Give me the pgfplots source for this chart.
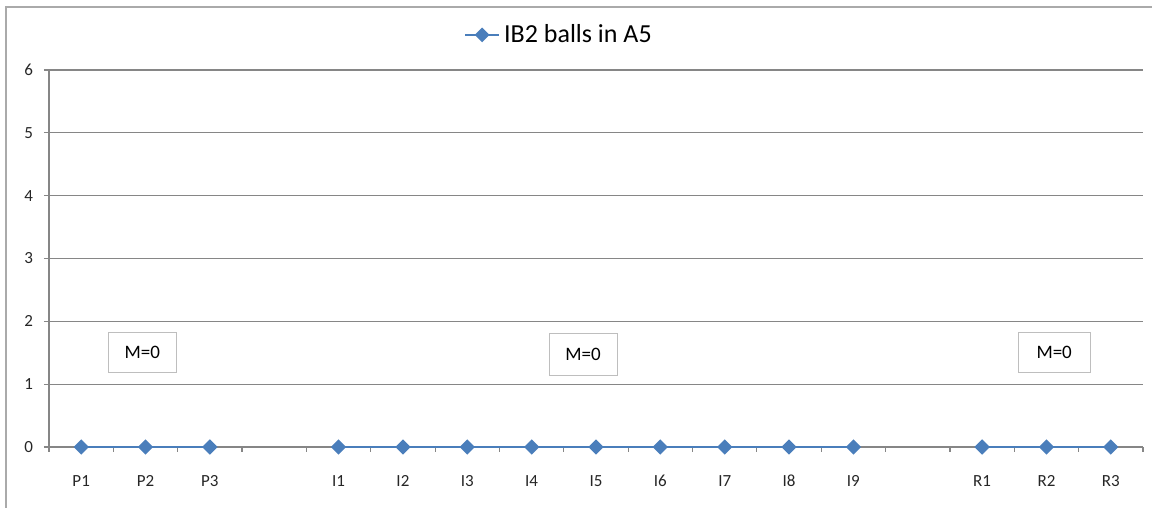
\documentclass[border=0pt]{standalone}
\usepackage{pgfplots}
\pgfplotsset{compat=1.18}
\usepackage{fontspec}
\setmainfont{Carlito}

\definecolor{xlblue}{RGB}{74,126,187}
\definecolor{gridgray}{RGB}{134,134,134}
\definecolor{framegray}{RGB}{170,170,170}
\definecolor{boxgray}{RGB}{190,190,190}

% 1 px of the reference = 0.5pt
\begin{document}
\begin{tikzpicture}
    \useasboundingbox (0pt,0pt) rectangle (576pt,254pt);
    \draw[framegray, line width=0.8pt] (3pt,0pt) -- (3pt,250.5pt) -- (576pt,250.5pt);
    \begin{axis}[
        at={(24.5pt,30.5pt)}, anchor=south west,
        scale only axis,
        width=547pt, height=188.5pt,
        xmin=-0.5, xmax=16.5,
        ymin=0, ymax=6,
        axis x line=bottom, axis y line=left,
        axis line style={gridgray, line width=0.6pt, -},
        xtick={0,1,2,4,5,6,7,8,9,10,11,12,14,15,16},
        xticklabels={P1,P2,P3,I1,I2,I3,I4,I5,I6,I7,I8,I9,R1,R2,R3},
        minor xtick={-0.5,0.5,...,16.5},
        ytick={0,1,...,6},
        tick align=outside,
        major x tick style={draw=none},
        minor tick length=2.5pt,
        major tick length=2.5pt,
        tick style={gridgray, line width=0.6pt},
        ymajorgrids=true,
        grid style={gridgray, line width=0.6pt},
        ticklabel style={font=\fontsize{8.5}{10}\selectfont, text=black!85},
        xticklabel style={anchor=base, yshift=-17.5pt},
        yticklabel style={xshift=-2pt},
        /pgf/number format/assume math mode=true,
        unbounded coords=jump,
        clip=false,
        legend style={at={(axis description cs:0.467,1.093)}, anchor=center,
            draw=none, fill=none, font=\fontsize{13}{15}\selectfont,
            inner sep=0pt},
        legend image post style={line width=1pt},
    ]
    \addplot[xlblue, line width=1.2pt, mark=square*, mark size=2.1pt,
        mark options={fill=xlblue, draw=xlblue, rotate=45}] coordinates {
        (0,0) (1,0) (2,0) (3,nan)
        (4,0) (5,0) (6,0) (7,0) (8,0) (9,0) (10,0) (11,0) (12,0) (13,nan)
        (14,0) (15,0) (16,0)
    };
    \addlegendentry{IB2 balls in A5}
    \node[draw=boxgray, fill=white, minimum width=34pt, minimum height=20pt,
        font=\fontsize{9.5}{11}\selectfont, line width=0.5pt] at (axis cs:0.95,1.5) {M=0};
    \node[draw=boxgray, fill=white, minimum width=34pt, minimum height=21pt,
        font=\fontsize{9.5}{11}\selectfont, line width=0.5pt] at (axis cs:7.8,1.48) {M=0};
    \node[draw=boxgray, fill=white, minimum width=36pt, minimum height=20pt,
        font=\fontsize{9.5}{11}\selectfont, line width=0.5pt] at (axis cs:15.12,1.5) {M=0};
    \end{axis}
\end{tikzpicture}
\end{document}
